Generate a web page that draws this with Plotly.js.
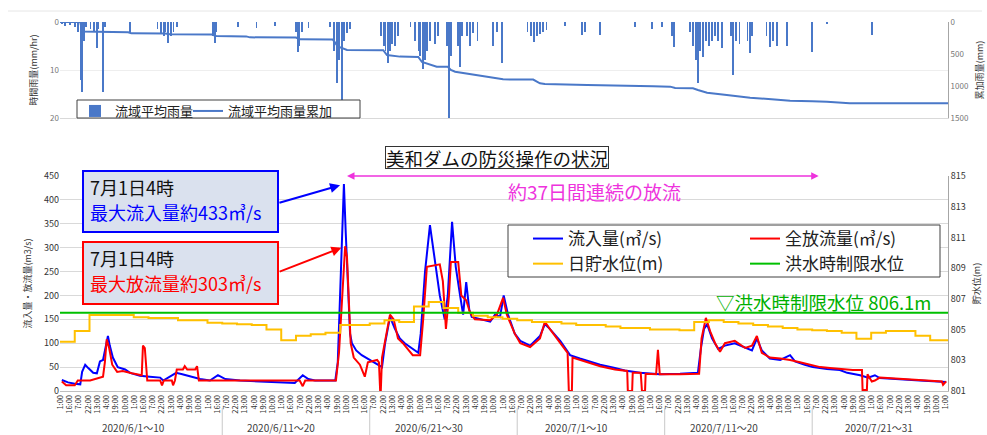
<!DOCTYPE html>
<html><head><meta charset="utf-8">
<script src="https://cdn.plot.ly/plotly-3.0.1.min.js"></script>
<style>html,body{margin:0;padding:0;background:#fff}</style>
</head><body>
<div id="chart" style="width:987px;height:435px"></div>
<script>
// time values are hours elapsed since 2020-06-01 00:00
const inflowHours = [3,13,24,33,36,41,46,54,60,65,70,75,78,81,86,94,106,114,130,146,163,168,179,189,199,212,228,244,257,269,293,325,358,382,395,404,415,448,452,456,459,462,465,469,472,475,482,491,504,517,524,529,537,545,553,561,573,583,587,594,602,610,618,626,631,638,644,651,656,661,666,670,683,700,708,716,722,729,740,749,765,781,789,797,814,830,846,858,879,903,919,944,976,1009,1038,1043,1048,1053,1061,1071,1082,1098,1115,1126,1134,1142,1155,1172,1188,1196,1212,1225,1248,1269,1281,1302,1315,1326,1334,1367,1399,1442];
const inflow = [23,18,15,14,40,55,48,38,37,62,65,100,115,95,70,50,45,38,32,30,28,22,30,38,35,30,25,22,33,25,22,20,18,17,33,25,22,22,60,200,300,433,330,200,120,100,85,75,65,55,50,100,155,130,110,100,90,80,120,250,347,270,200,150,200,354,260,200,160,228,170,155,150,145,160,155,200,160,120,105,95,115,140,130,105,75,68,63,55,48,43,38,35,36,38,90,130,140,110,88,95,100,90,85,110,85,68,65,75,62,55,50,46,44,38,33,28,33,27,24,22,19];

const outflowHours = [3,10,24,29,49,57,62,70,73,76,80,85,93,102,117,130,133,135,138,142,163,166,169,182,184,187,190,200,203,207,220,223,226,390,395,399,449,454,459,464,467,470,473,478,488,496,501,516,519,521,522,524,530,537,543,550,558,570,574,586,591,597,618,623,628,633,636,648,653,661,667,675,700,711,721,727,740,749,765,781,789,797,814,826,828,833,834,846,862,879,903,923,924,931,932,945,947,952,953,970,973,976,1009,1040,1044,1051,1058,1066,1074,1082,1098,1115,1126,1134,1142,1155,1172,1188,1204,1220,1237,1253,1277,1290,1305,1306,1313,1314,1321,1326,1334,1367,1416,1435,1437,1442];
const outflow = [20,12,12,22,22,25,28,30,60,108,90,55,40,42,37,33,33,95,90,22,22,12,22,22,12,22,45,45,52,45,45,52,22,22,10,22,22,80,200,303,280,180,100,70,55,30,60,65,60,0,0,70,110,160,150,110,100,80,75,75,150,260,265,230,130,200,270,270,200,190,165,150,148,160,195,160,120,100,92,110,145,130,100,80,0,0,70,65,58,52,45,42,0,0,38,38,0,0,36,35,86,35,35,36,110,153,125,100,82,100,105,90,95,115,80,70,68,65,60,55,50,48,45,44,44,2,2,35,20,22,28,25,22,20,13,20];

// daily storage level (m), one value per day from 6/1 to 7/31
const dailyLevel = [804.2,804.9,805.95,805.95,805.95,805.8,805.75,805.75,805.6,805.6,
 805.45,805.4,805.35,805.3,805.0,804.3,804.6,804.7,804.8,805.3,
 805.3,805.4,805.6,805.5,806.5,806.8,806.4,806.1,805.9,805.8,
 805.7,805.6,805.5,805.5,805.4,805.3,805.3,805.2,805.1,805.1,
 805.0,805.0,804.95,805.5,805.6,805.5,805.4,805.3,805.2,805.1,
 805.0,804.95,804.9,804.8,804.4,804.8,804.9,804.9,804.6,804.3,804.3];
const floodLimitLevel = 806.1;

const rainHours = [3,8,16,24,29,33,36,39,42,50,55,60,63,70,73,114,159,164,169,172,176,181,185,190,249,252,255,290,320,350,384,387,390,394,404,439,446,451,454,459,462,467,472,522,527,530,534,537,540,545,550,570,578,583,586,591,594,597,602,610,615,630,633,636,648,651,654,662,667,672,679,705,711,719,761,766,771,776,781,786,792,822,849,854,879,936,963,980,996,999,1025,1030,1035,1038,1041,1046,1051,1056,1061,1066,1071,1077,1092,1095,1100,1106,1119,1123,1126,1150,1155,1160,1167,1183,1224,1248,1321];
const rain = [0.5,0.8,0.6,1.0,2,12,14.5,4,1,1.5,2,5.5,1.5,14.5,1,2.3,1.5,2.5,3,2,4.4,3,2,1,3,4.4,2,1,1.2,0.8,2,6.2,5,2,1.2,1,6,12.8,8,16.2,4,2.3,1.5,3,5,6,8.6,6,4.5,5,3,1,4,6,7,9.8,8,6,4,4.5,3,5,20,7,5,9.3,3,3,5,2.3,4,4.9,2,8.6,2,3,4.2,3,2.5,2,1.7,0.8,2.7,2,2.7,1,1.5,1,3,5.2,2,5,8,12.8,6,7.3,4,5,4,3,4,5.4,3,11,4,4.5,4,6.5,3,3,5.2,4,5,5,6.2,0.5,2.7];

const cumHours = [0,33,36,72,111,116,171,179,247,254,303,309,384,390,444,452,460,467,526,532,553,583,589,607,613,631,636,643,667,683,716,721,770,781,789,846,858,965,993,1001,1030,1038,1053,1085,1123,1163,1188,1224,1248,1285,1323,1445];
const cumRain = [0,0,150,156,160,177,180,193,195,219,225,240,242,271,275,380,411,438,440,516,541,545,625,672,698,700,750,776,810,840,880,896,900,958,969,972,984,1005,1010,1030,1036,1062,1104,1141,1182,1210,1229,1240,1245,1268,1271,1271];

const groupLabels = ['2020/6/1～10','2020/6/11～20','2020/6/21～30','2020/7/1～10','2020/7/11～20','2020/7/21～31'];
const groupCenterDays = [5,15,25,35,45,55.5];
const groupSeparatorDays = [11,21,31,41,51];
const releaseSpanHours = [467,1237];
const rangeHours = [0,1445];

function hToDate(h){
  const d = new Date(Date.UTC(2020,5,1) + h*3600000);
  const p = n => String(n).padStart(2,'0');
  return d.getUTCFullYear()+'-'+p(d.getUTCMonth()+1)+'-'+p(d.getUTCDate())+' '+p(d.getUTCHours())+':'+p(d.getUTCMinutes());
}
const xRange = rangeHours.map(hToDate);
const levelX = dailyLevel.map((v,i)=>hToDate(i*24)).concat([xRange[1]]);
const levelY = dailyLevel.concat([dailyLevel[dailyLevel.length-1]]);

const inPeakIdx = inflow.indexOf(Math.max(...inflow));
const outPeakIdx = outflow.indexOf(Math.max(...outflow));

const FONT = "'Noto Sans CJK JP', 'Noto Sans', sans-serif";

const traces = [
  {type:'scatter', mode:'lines', name:'流入量(㎥/s)', x:inflowHours.map(hToDate), y:inflow,
   xaxis:'x', yaxis:'y', line:{color:'#0000ff', width:2}, legend:'legend', legendgroup:'g1'},
  {type:'scatter', mode:'lines', name:'全放流量(㎥/s)', x:outflowHours.map(hToDate), y:outflow,
   xaxis:'x', yaxis:'y', line:{color:'#ff0000', width:2}, legend:'legend3', legendgroup:'g2'},
  {type:'scatter', mode:'lines', name:'日貯水位(m)', x:levelX, y:levelY,
   xaxis:'x', yaxis:'y2', line:{color:'#ffc000', width:2, shape:'hv'}, legend:'legend', legendgroup:'g3'},
  {type:'scatter', mode:'lines', name:'洪水時制限水位', x:xRange, y:[floodLimitLevel,floodLimitLevel],
   xaxis:'x', yaxis:'y2', line:{color:'#00c000', width:2}, legend:'legend3', legendgroup:'g4'},
  {type:'bar', name:'流域平均雨量', x:rainHours.map(hToDate), y:rain, width:rainHours.map(()=>2.5*3600000),
   xaxis:'x2', yaxis:'y3', marker:{color:'#4a78c8', line:{width:0}}, legend:'legend2'},
  {type:'scatter', mode:'lines', name:'流域平均雨量累加', x:cumHours.map(hToDate), y:cumRain,
   xaxis:'x2', yaxis:'y4', line:{color:'#4a78c8', width:2}, legend:'legend4'}
];

const pyb = px => (391-px)/369;
const pxp = px => (px-60)/888;

function boxText(text, px, py, color){
  return {xref:'paper', yref:'paper', x:pxp(px), xanchor:'left', y:pyb(py), yanchor:'middle',
    text:text, showarrow:false, font:{family:FONT, size:18, color:color}};
}

const annotations = [
  {xref:'paper', yref:'paper', x:pxp(497), xanchor:'center', y:pyb(157), yanchor:'middle', text:'美和ダムの防災操作の状況', showarrow:false,
   font:{family:FONT, size:18.5, color:'#111'}, bordercolor:'#333', borderwidth:1, bgcolor:'#fff', width:222, height:21, borderpad:0},
  {xref:'x', yref:'y', x:hToDate(releaseSpanHours[0]), y:450, axref:'x', ayref:'y', ax:hToDate(releaseSpanHours[1]), ay:450,
   text:'', showarrow:true, arrowside:'end+start', arrowhead:2, arrowsize:1, arrowwidth:1.5, arrowcolor:'#ee33dd'},
  {xref:'paper', yref:'paper', x:pxp(594), xanchor:'center', y:pyb(192), yanchor:'middle', text:'約37日間連続の放流', showarrow:false,
   font:{family:FONT, size:19, color:'#ee33dd'}},
  boxText('7月1日4時', 88, 187, '#111'),
  boxText('最大流入量約433㎥/s', 88, 212, '#0000ff'),
  boxText('7月1日4時', 88, 258, '#111'),
  boxText('最大放流量約303㎥/s', 88, 283, '#ff0000'),
  {xref:'x', yref:'y', x:hToDate(inflowHours[inPeakIdx]), y:inflow[inPeakIdx], ax:-66, ay:19, text:'', showarrow:true,
   arrowhead:2, arrowsize:1, arrowwidth:2, arrowcolor:'#0000ff', standoff:4},
  {xref:'x', yref:'y', x:hToDate(outflowHours[outPeakIdx]), y:outflow[outPeakIdx], ax:-67, ay:26, text:'', showarrow:true,
   arrowhead:2, arrowsize:1, arrowwidth:2, arrowcolor:'#ff0000', standoff:4},
  {xref:'paper', yref:'paper', x:pxp(824), xanchor:'center', y:pyb(302), yanchor:'middle', text:'▽洪水時制限水位 806.1m', showarrow:false,
   font:{family:FONT, size:18.5, color:'#00b000'}}
];
groupLabels.forEach((t,i)=>annotations.push({xref:'x', yref:'paper', x:hToDate(groupCenterDays[i]*24), xanchor:'center',
  y:pyb(427), yanchor:'middle', text:t, showarrow:false, font:{family:FONT, size:10, color:'#404040'}}));

const shapes = [
  {type:'rect', xref:'paper', yref:'paper', x0:pxp(508), x1:pxp(940), y0:pyb(277), y1:pyb(225),
   line:{color:'#404040', width:1}, fillcolor:'#ffffff', layer:'above'},
  {type:'rect', xref:'paper', yref:'paper', x0:pxp(77), x1:pxp(360), y0:pyb(118), y1:pyb(100),
   line:{color:'#404040', width:1}, fillcolor:'#ffffff', layer:'above'},
  {type:'rect', xref:'paper', yref:'paper', x0:pxp(83), x1:pxp(278), y0:pyb(232), y1:pyb(171),
   line:{color:'#0000ff', width:2}, fillcolor:'#dae1ee', layer:'above'},
  {type:'rect', xref:'paper', yref:'paper', x0:pxp(83), x1:pxp(278), y0:pyb(304), y1:pyb(242),
   line:{color:'#ff0000', width:2}, fillcolor:'#dae1ee', layer:'above'},
  {type:'line', xref:'paper', yref:'paper', x0:pxp(8), x1:pxp(982), y0:pyb(11), y1:pyb(11),
   line:{color:'#e6e6e6', width:1}}
];
groupSeparatorDays.forEach(d=>shapes.push({type:'line', xref:'x', yref:'paper', x0:hToDate(d*24), x1:hToDate(d*24),
  y0:pyb(408), y1:pyb(435), line:{color:'#c8c8c8', width:1}}));

const bottomLegend = (px) => ({orientation:'v', x:pxp(px), xanchor:'left', y:pyb(221), yanchor:'top',
  bgcolor:'rgba(0,0,0,0)', borderwidth:0, font:{family:FONT, size:17, color:'#222'}, itemwidth:30,
  traceorder:'normal', tracegroupgap:3});
const topLegend = (px) => ({orientation:'v', x:pxp(px), xanchor:'left', y:pyb(96), yanchor:'top',
  bgcolor:'rgba(0,0,0,0)', borderwidth:0, font:{family:FONT, size:13, color:'#222'}, itemwidth:30});

const layout = {
  width:987, height:435,
  margin:{l:60, r:39, t:22, b:44},
  paper_bgcolor:'#ffffff', plot_bgcolor:'rgba(0,0,0,0)',
  font:{family:FONT, color:'#333'},
  showlegend:true,
  xaxis:{type:'date', range:xRange, domain:[0,1], anchor:'y', tick0:hToDate(1), dtick:15*3600000,
    tickformat:'%-H:%M', tickangle:-90, tickfont:{size:7.5, color:'#333'}, showgrid:false,
    showline:true, linecolor:'#bfbfbf', ticks:'', zeroline:false},
  yaxis:{domain:[0,pyb(176)], range:[0,450], dtick:50, tickfont:{size:9, color:'#333'}, gridcolor:'#d9d9d9',
    zeroline:false, showline:false, ticks:'',
    title:{text:'流入量・放流量(m3/s)', font:{size:9, color:'#333'}, standoff:10}},
  yaxis2:{overlaying:'y', side:'right', anchor:'x', range:[801,815], tick0:801, dtick:2, showgrid:false,
    zeroline:false, showline:true, linecolor:'#a6a6a6', ticks:'', tickfont:{size:9, color:'#333'},
    title:{text:'貯水位(m)', font:{size:9, color:'#333'}, standoff:8}},
  xaxis2:{type:'date', range:xRange, domain:[0,1], anchor:'y3', showticklabels:false, showgrid:false,
    ticks:'', showline:true, linecolor:'#d9d9d9', zeroline:false},
  yaxis3:{domain:[pyb(118),1], anchor:'x2', range:[20,0], dtick:10, tickfont:{size:8, color:'#777'},
    gridcolor:'#eeeeee', zeroline:false, ticks:'',
    title:{text:'時間雨量(mm/hr)', font:{size:9, color:'#333'}, standoff:10}},
  yaxis4:{overlaying:'y3', side:'right', anchor:'x2', range:[1500,0], dtick:500, showgrid:false, zeroline:false,
    showline:true, linecolor:'#a6a6a6', ticks:'', tickfont:{size:8, color:'#777'},
    title:{text:'累加雨量(mm)', font:{size:9, color:'#333'}, standoff:8}},
  legend:bottomLegend(528),
  legend3:bottomLegend(745),
  legend2:topLegend(75),
  legend4:topLegend(188),
  annotations:annotations,
  shapes:shapes,
  bargap:0
};

Plotly.newPlot('chart', traces, layout, {displayModeBar:false, staticPlot:true});
</script>
</body></html>
